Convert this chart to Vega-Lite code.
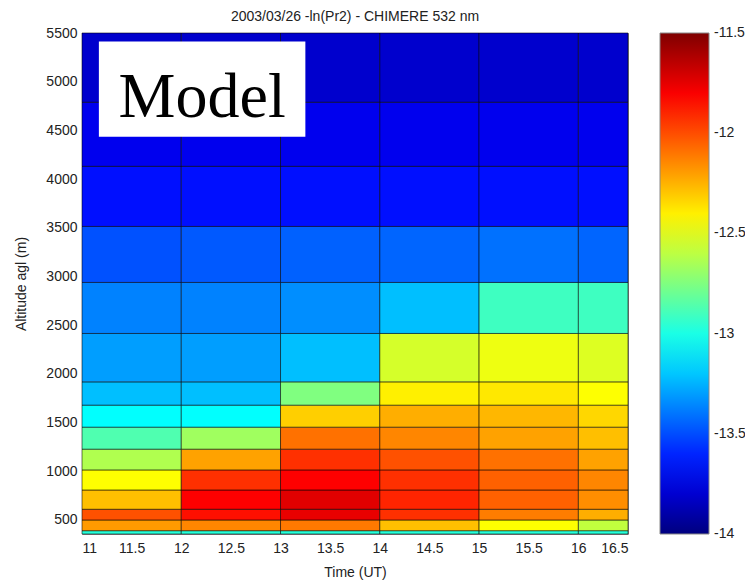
{
  "$schema": "https://vega.github.io/schema/vega-lite/v6.json",
  "autosize": "none",
  "padding": {"left": 82, "top": 33, "right": 117, "bottom": 48},
  "width": 546,
  "height": 501,
  "background": "white",
  "title": {
    "text": "2003/03/26 -ln(Pr2) - CHIMERE 532 nm",
    "font": "Liberation Sans",
    "fontSize": 14,
    "fontWeight": "normal",
    "color": "#222",
    "anchor": "middle",
    "offset": 2
  },
  "config": {
    "view": {"stroke": "#888", "strokeWidth": 1},
    "axis": {
      "labelFont": "Liberation Sans",
      "labelFontSize": 14,
      "labelColor": "#222",
      "titleFont": "Liberation Sans",
      "titleFontSize": 14,
      "titleFontWeight": "normal",
      "titleColor": "#222",
      "grid": false,
      "domain": false,
      "ticks": false
    },
    "legend": {
      "labelFont": "Liberation Sans",
      "labelFontSize": 14,
      "labelColor": "#222"
    }
  },
  "datasets": {
    "cells": [
      {"t0": 11, "t1": 12, "a0": 356, "a1": 390, "v": -12.97},
      {"t0": 12, "t1": 13, "a0": 356, "a1": 390, "v": -12.97},
      {"t0": 13, "t1": 14, "a0": 356, "a1": 390, "v": -12.97},
      {"t0": 14, "t1": 15, "a0": 356, "a1": 390, "v": -12.97},
      {"t0": 15, "t1": 16, "a0": 356, "a1": 390, "v": -12.97},
      {"t0": 16, "t1": 16.5, "a0": 356, "a1": 390, "v": -12.97},

      {"t0": 11, "t1": 12, "a0": 390, "a1": 500, "v": -12.19},
      {"t0": 12, "t1": 13, "a0": 390, "a1": 500, "v": -12.14},
      {"t0": 13, "t1": 14, "a0": 390, "a1": 500, "v": -12.11},
      {"t0": 14, "t1": 15, "a0": 390, "a1": 500, "v": -12.28},
      {"t0": 15, "t1": 16, "a0": 390, "a1": 500, "v": -12.44},
      {"t0": 16, "t1": 16.5, "a0": 390, "a1": 500, "v": -12.59},

      {"t0": 11, "t1": 12, "a0": 500, "a1": 610, "v": -12.01},
      {"t0": 12, "t1": 13, "a0": 500, "a1": 610, "v": -11.85},
      {"t0": 13, "t1": 14, "a0": 500, "a1": 610, "v": -11.76},
      {"t0": 14, "t1": 15, "a0": 500, "a1": 610, "v": -11.93},
      {"t0": 15, "t1": 16, "a0": 500, "a1": 610, "v": -12.12},
      {"t0": 16, "t1": 16.5, "a0": 500, "a1": 610, "v": -12.24},

      {"t0": 11, "t1": 12, "a0": 610, "a1": 808, "v": -12.28},
      {"t0": 12, "t1": 13, "a0": 610, "a1": 808, "v": -11.81},
      {"t0": 13, "t1": 14, "a0": 610, "a1": 808, "v": -11.74},
      {"t0": 14, "t1": 15, "a0": 610, "a1": 808, "v": -11.9},
      {"t0": 15, "t1": 16, "a0": 610, "a1": 808, "v": -12.05},
      {"t0": 16, "t1": 16.5, "a0": 610, "a1": 808, "v": -12.16},

      {"t0": 11, "t1": 12, "a0": 808, "a1": 1014, "v": -12.44},
      {"t0": 12, "t1": 13, "a0": 808, "a1": 1014, "v": -11.93},
      {"t0": 13, "t1": 14, "a0": 808, "a1": 1014, "v": -11.81},
      {"t0": 14, "t1": 15, "a0": 808, "a1": 1014, "v": -11.93},
      {"t0": 15, "t1": 16, "a0": 808, "a1": 1014, "v": -12.05},
      {"t0": 16, "t1": 16.5, "a0": 808, "a1": 1014, "v": -12.14},

      {"t0": 11, "t1": 12, "a0": 1014, "a1": 1227, "v": -12.63},
      {"t0": 12, "t1": 13, "a0": 1014, "a1": 1227, "v": -12.21},
      {"t0": 13, "t1": 14, "a0": 1014, "a1": 1227, "v": -11.93},
      {"t0": 14, "t1": 15, "a0": 1014, "a1": 1227, "v": -12.01},
      {"t0": 15, "t1": 16, "a0": 1014, "a1": 1227, "v": -12.09},
      {"t0": 16, "t1": 16.5, "a0": 1014, "a1": 1227, "v": -12.21},

      {"t0": 11, "t1": 12, "a0": 1227, "a1": 1453, "v": -12.87},
      {"t0": 12, "t1": 13, "a0": 1227, "a1": 1453, "v": -12.67},
      {"t0": 13, "t1": 14, "a0": 1227, "a1": 1453, "v": -12.09},
      {"t0": 14, "t1": 15, "a0": 1227, "a1": 1453, "v": -12.14},
      {"t0": 15, "t1": 16, "a0": 1227, "a1": 1453, "v": -12.21},
      {"t0": 16, "t1": 16.5, "a0": 1227, "a1": 1453, "v": -12.28},

      {"t0": 11, "t1": 12, "a0": 1453, "a1": 1679, "v": -13.06},
      {"t0": 12, "t1": 13, "a0": 1453, "a1": 1679, "v": -13.06},
      {"t0": 13, "t1": 14, "a0": 1453, "a1": 1679, "v": -12.32},
      {"t0": 14, "t1": 15, "a0": 1453, "a1": 1679, "v": -12.24},
      {"t0": 15, "t1": 16, "a0": 1453, "a1": 1679, "v": -12.26},
      {"t0": 16, "t1": 16.5, "a0": 1453, "a1": 1679, "v": -12.34},

      {"t0": 11, "t1": 12, "a0": 1679, "a1": 1918, "v": -13.22},
      {"t0": 12, "t1": 13, "a0": 1679, "a1": 1918, "v": -13.22},
      {"t0": 13, "t1": 14, "a0": 1679, "a1": 1918, "v": -12.75},
      {"t0": 14, "t1": 15, "a0": 1679, "a1": 1918, "v": -12.4},
      {"t0": 15, "t1": 16, "a0": 1679, "a1": 1918, "v": -12.38},
      {"t0": 16, "t1": 16.5, "a0": 1679, "a1": 1918, "v": -12.44},

      {"t0": 11, "t1": 12, "a0": 1918, "a1": 2415, "v": -13.3},
      {"t0": 12, "t1": 13, "a0": 1918, "a1": 2415, "v": -13.3},
      {"t0": 13, "t1": 14, "a0": 1918, "a1": 2415, "v": -13.22},
      {"t0": 14, "t1": 15, "a0": 1918, "a1": 2415, "v": -12.54},
      {"t0": 15, "t1": 16, "a0": 1918, "a1": 2415, "v": -12.48},
      {"t0": 16, "t1": 16.5, "a0": 1918, "a1": 2415, "v": -12.52},

      {"t0": 11, "t1": 12, "a0": 2415, "a1": 2939, "v": -13.37},
      {"t0": 12, "t1": 13, "a0": 2415, "a1": 2939, "v": -13.37},
      {"t0": 13, "t1": 14, "a0": 2415, "a1": 2939, "v": -13.34},
      {"t0": 14, "t1": 15, "a0": 2415, "a1": 2939, "v": -13.22},
      {"t0": 15, "t1": 16, "a0": 2415, "a1": 2939, "v": -12.91},
      {"t0": 16, "t1": 16.5, "a0": 2415, "a1": 2939, "v": -12.91},

      {"t0": 11, "t1": 12, "a0": 2939, "a1": 3514, "v": -13.49},
      {"t0": 12, "t1": 13, "a0": 2939, "a1": 3514, "v": -13.47},
      {"t0": 13, "t1": 14, "a0": 2939, "a1": 3514, "v": -13.45},
      {"t0": 14, "t1": 15, "a0": 2939, "a1": 3514, "v": -13.44},
      {"t0": 15, "t1": 16, "a0": 2939, "a1": 3514, "v": -13.41},
      {"t0": 16, "t1": 16.5, "a0": 2939, "a1": 3514, "v": -13.44},

      {"t0": 11, "t1": 12, "a0": 3514, "a1": 4131, "v": -13.65},
      {"t0": 12, "t1": 13, "a0": 3514, "a1": 4131, "v": -13.65},
      {"t0": 13, "t1": 14, "a0": 3514, "a1": 4131, "v": -13.65},
      {"t0": 14, "t1": 15, "a0": 3514, "a1": 4131, "v": -13.65},
      {"t0": 15, "t1": 16, "a0": 3514, "a1": 4131, "v": -13.65},
      {"t0": 16, "t1": 16.5, "a0": 3514, "a1": 4131, "v": -13.65},

      {"t0": 11, "t1": 12, "a0": 4131, "a1": 4789, "v": -13.73},
      {"t0": 12, "t1": 13, "a0": 4131, "a1": 4789, "v": -13.73},
      {"t0": 13, "t1": 14, "a0": 4131, "a1": 4789, "v": -13.73},
      {"t0": 14, "t1": 15, "a0": 4131, "a1": 4789, "v": -13.73},
      {"t0": 15, "t1": 16, "a0": 4131, "a1": 4789, "v": -13.73},
      {"t0": 16, "t1": 16.5, "a0": 4131, "a1": 4789, "v": -13.73},

      {"t0": 11, "t1": 12, "a0": 4789, "a1": 5500, "v": -13.81},
      {"t0": 12, "t1": 13, "a0": 4789, "a1": 5500, "v": -13.81},
      {"t0": 13, "t1": 14, "a0": 4789, "a1": 5500, "v": -13.81},
      {"t0": 14, "t1": 15, "a0": 4789, "a1": 5500, "v": -13.81},
      {"t0": 15, "t1": 16, "a0": 4789, "a1": 5500, "v": -13.81},
      {"t0": 16, "t1": 16.5, "a0": 4789, "a1": 5500, "v": -13.81}
    ],
    "label": [
      {"t0": 11.17, "t1": 13.25, "a0": 4436, "a1": 5413, "tx": 12.21, "ay": 4642, "name": "Model"}
    ]
  },
  "layer": [
    {
      "data": {"name": "cells"},
      "mark": {"type": "rect", "stroke": "black", "strokeWidth": 1, "strokeOpacity": 0.55},
      "encoding": {
        "x": {
          "field": "t0", "type": "quantitative",
          "scale": {"domain": [11, 16.5], "nice": false, "zero": false},
          "axis": {"title": "Time (UT)", "values": [11, 11.5, 12, 12.5, 13, 13.5, 14, 14.5, 15, 15.5, 16, 16.5], "labelExpr": "'' + datum.value", "labelPadding": 7, "titlePadding": 10}
        },
        "x2": {"field": "t1"},
        "y": {
          "field": "a0", "type": "quantitative",
          "scale": {"domain": [356, 5500], "nice": false, "zero": false},
          "axis": {"title": "Altitude agl (m)", "values": [500, 1000, 1500, 2000, 2500, 3000, 3500, 4000, 4500, 5000, 5500], "labelExpr": "'' + datum.value", "labelPadding": 5, "titlePadding": 17}
        },
        "y2": {"field": "a1"},
        "color": {
          "field": "v", "type": "quantitative",
          "scale": {
            "domain": [-14, -13.6875, -13.0625, -12.4375, -11.8125, -11.5],
            "range": ["#00007f", "#0000ff", "#00ffff", "#ffff00", "#ff0000", "#7f0000"],
            "interpolate": "rgb"
          },
          "legend": {
            "title": null,
            "direction": "vertical",
            "orient": "right",
            "offset": 32,
            "gradientLength": 501,
            "gradientThickness": 49,
            "gradientStrokeColor": "#888",
            "gradientStrokeWidth": 1,
            "values": [-14, -13.5, -13, -12.5, -12, -11.5],
            "labelExpr": "'' + datum.value",
            "labelOffset": 5,
            "encode": {
              "labels": {"update": {"baseline": {"value": "middle"}}}
            }
          }
        }
      }
    },
    {
      "data": {"name": "label"},
      "mark": {"type": "rect", "fill": "white", "stroke": null},
      "encoding": {
        "x": {"field": "t0", "type": "quantitative"},
        "x2": {"field": "t1"},
        "y": {"field": "a0", "type": "quantitative"},
        "y2": {"field": "a1"}
      }
    },
    {
      "data": {"name": "label"},
      "mark": {"type": "text", "font": "Liberation Serif", "fontSize": 64, "color": "black", "align": "center", "baseline": "alphabetic"},
      "encoding": {
        "x": {"field": "tx", "type": "quantitative"},
        "y": {"field": "ay", "type": "quantitative"},
        "text": {"field": "name"}
      }
    }
  ]
}
